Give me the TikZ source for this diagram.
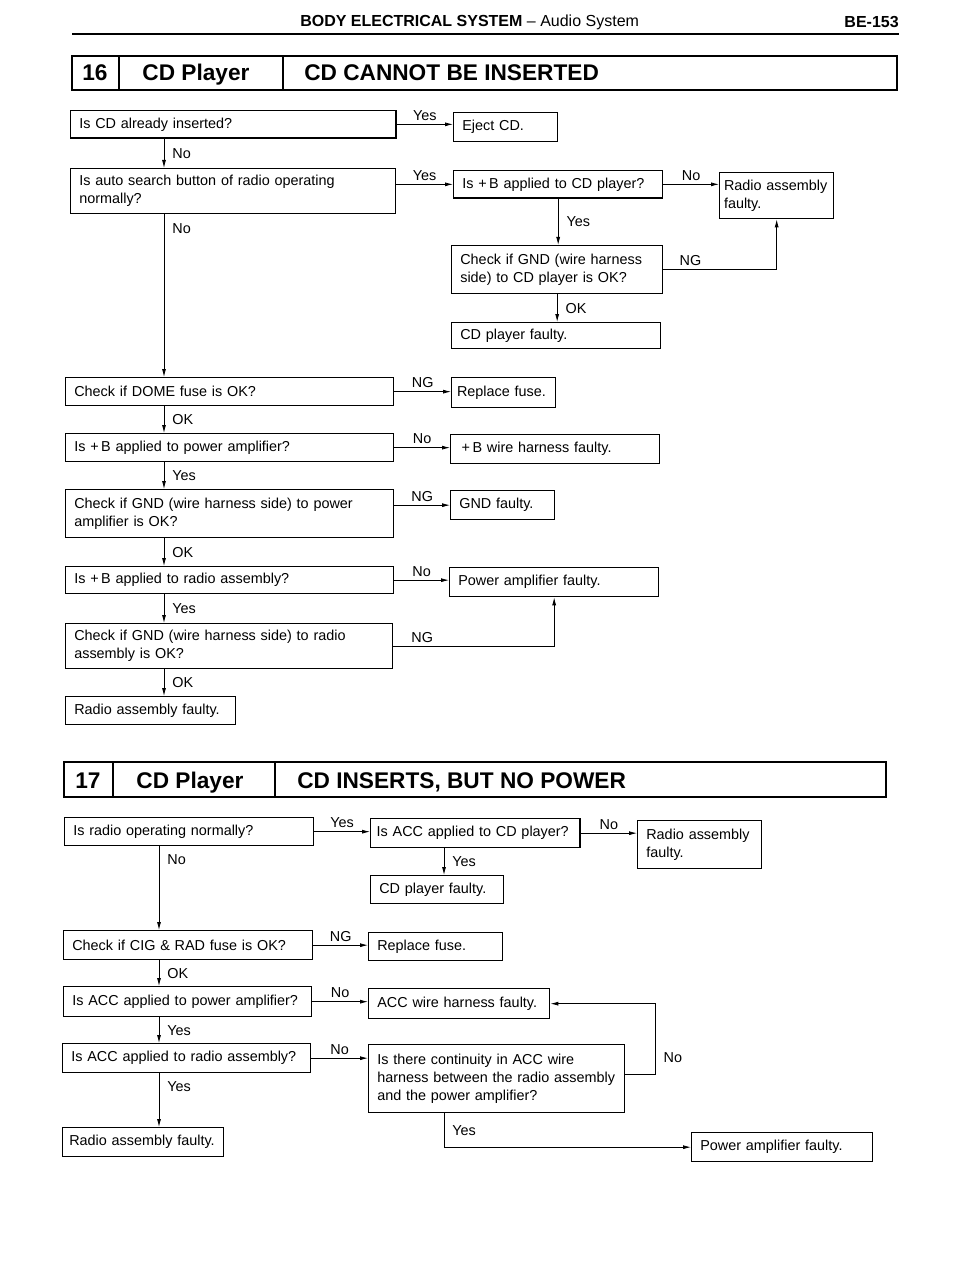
\documentclass[tikz,border=0pt]{standalone}
\usepackage{fontspec}
\setmainfont{Liberation Sans}
\usetikzlibrary{arrows.meta}

\begin{document}
\begin{tikzpicture}[x=0.75pt,y=-0.75pt]
	\tikzstyle{qbox}=[draw, line width=1pt, anchor=north west, align=left, inner xsep=6.5pt, minimum height=20.5pt, font=\fontsize{10.8pt}{13.5pt}\selectfont]
	\tikzstyle{lbl}=[inner sep=2.5pt, font=\fontsize{10.8pt}{13.5pt}\selectfont]
	\tikzstyle{rlbl}=[lbl, right, xshift=3.5pt]
	\tikzstyle{flow}=[->, >={Latex[length=6pt,width=3pt]}, line width=0.6pt]
	\tikzstyle{ttl}=[inner sep=0pt, anchor=base, font=\fontsize{17pt}{20pt}\selectfont\bfseries]
	\path[fill=white] (0,0) rectangle (960,1280);
	\useasboundingbox (0,0) rectangle (960,1280);
	% page header
	\node (hdr) [anchor=west, inner sep=0pt, font=\fontsize{12pt}{14pt}\selectfont] at (300,22) {\bfseries BODY ELECTRICAL SYSTEM\mdseries\ -- Audio System};
	\node (page) [anchor=east, inner sep=0pt, font=\fontsize{12pt}{14pt}\selectfont\bfseries] at (899,22) {BE-153};
	\draw[line width=1.8pt] (72,34) -- (899,34);
	% 16
	\draw[line width=1pt] (72,56) rectangle (897,90);
	\draw[line width=1pt] (119,56) -- (119,90);
	\draw[line width=1pt] (283,56) -- (283,90);
	\node (n16) [ttl] at (95,81) {16};
	\node (cd16) [ttl] at (196,81) {CD Player};
	\node (t16txt) [ttl, anchor=base west] at (304,81) {CD CANNOT BE INSERTED};
	\coordinate (t16) at (164,0);
	\node (A1) at (70,110) [qbox, text width=231pt] {Is CD already inserted?};
	\node (ej) at (453,112) [qbox, text width=65pt, minimum height=21.75pt] {Eject CD.};
	\node (A2) at (70,168) [qbox, text width=230.75pt, minimum height=33.75pt] {Is auto search button of radio operating\\normally?};
	\node (B1) at (453,170) [qbox, text width=143.75pt] {Is +\,B applied to CD player?};
	\node (R1) at (719,172) [qbox, text width=79pt, inner xsep=3.25pt, minimum height=34.5pt] {Radio assembly\\faulty.};
	\node (B2) at (451,245) [qbox, text width=145.25pt, minimum height=36pt] {Check if GND (wire harness\\side) to CD player is OK?};
	\node (B3) at (451,322) [qbox, text width=143.75pt, minimum height=19.5pt] {CD player faulty.};
	\node (C1) at (65,377) [qbox, text width=233pt, minimum height=21pt] {Check if DOME fuse is OK?};
	\node (rf1) at (451,377) [qbox, text width=70pt, inner xsep=4pt, minimum height=22.5pt] {Replace fuse.};
	\node (C2) at (65,433) [qbox, text width=233pt, minimum height=21pt] {Is +\,B applied to power amplifier?};
	\node (bw) at (450,434) [qbox, text width=143.75pt, minimum height=21.75pt] {\,+\,B wire harness faulty.};
	\node (C3) at (65,489) [qbox, text width=233pt, minimum height=36pt] {Check if GND (wire harness side) to power\\amplifier is OK?};
	\node (gf) at (450,490) [qbox, text width=65pt, minimum height=21.75pt] {GND faulty.};
	\node (C4) at (65,566) [qbox, text width=233pt, minimum height=20.25pt] {Is +\,B applied to radio assembly?};
	\node (paf1) at (449,567) [qbox, text width=143.75pt, minimum height=21.75pt] {Power amplifier faulty.};
	\node (C5) at (65,623) [qbox, text width=232.25pt, minimum height=33.75pt] {Check if GND (wire harness side) to radio\\assembly is OK?};
	\node (C6) at (65,696) [qbox, text width=114.5pt, minimum height=21pt] {Radio assembly faulty.};
	\draw[flow] (A1.east) -- node[lbl,above] {Yes} (A1.east -| ej.west);
	\draw[flow] (A1.south -| t16) -- node[rlbl] {No} (A2.north -| t16);
	\draw[flow] (B1.west -| A2.east) -- node[lbl,above] {Yes} (B1.west);
	\draw[flow] (B1.east) -- node[lbl,above] {No} (B1.east -| R1.west);
	\draw[flow] (B1.south) -- node[rlbl] {Yes} (B1.south |- B2.north);
	\draw[flow] (B2.east) -| node[lbl,above,pos=.12] {NG} (R1.south);
	\draw[flow] (B2.south) -- node[rlbl] {OK} (B2.south |- B3.north);
	\draw[flow] (A2.south -| t16) -- node[rlbl,pos=.09] {No} (C1.north -| t16);
	\draw[flow] (C1.east) -- node[lbl,above] {NG} (C1.east -| rf1.west);
	\draw[flow] (C1.south -| t16) -- node[rlbl] {OK} (C2.north -| t16);
	\draw[flow] (C2.east) -- node[lbl,above] {No} (C2.east -| bw.west);
	\draw[flow] (C2.south -| t16) -- node[rlbl] {Yes} (C3.north -| t16);
	\draw[flow] (gf.west -| C3.east) -- node[lbl,above] {NG} (gf.west);
	\draw[flow] (C3.south -| t16) -- node[rlbl] {OK} (C4.north -| t16);
	\draw[flow] (C4.east) -- node[lbl,above] {No} (C4.east -| paf1.west);
	\draw[flow] (C4.south -| t16) -- node[rlbl] {Yes} (C5.north -| t16);
	\draw[flow] (C5.east) -| node[lbl,above,pos=.09] {NG} (paf1.south);
	\draw[flow] (C5.south -| t16) -- node[rlbl] {OK} (C6.north -| t16);
	% 17
	\draw[line width=1pt] (64,762) rectangle (886,797);
	\draw[line width=1pt] (113,762) -- (113,797);
	\draw[line width=1pt] (275,762) -- (275,797);
	\node (n17) [ttl] at (88,788) {17};
	\node (cd17) [ttl] at (190,788) {CD Player};
	\node (t17txt) [ttl, anchor=base west] at (297,788) {CD INSERTS, BUT NO POWER};
	\coordinate (t17) at (159,0);
	\coordinate (t17r) at (444,0);
	\node (D1) at (64,817) [qbox, text width=173.75pt, minimum height=21pt] {Is radio operating normally?};
	\node (E1) at (370,818) [qbox, text width=148pt, inner xsep=4.5pt, minimum height=21.75pt] {Is ACC applied to CD player?};
	\node (R2) at (637,820) [qbox, text width=80pt, minimum height=36pt] {Radio assembly\\faulty.};
	\node (E2) at (370,875) [qbox, text width=86.75pt, minimum height=21pt] {CD player faulty.};
	\node (D2) at (63,930) [qbox, text width=173.75pt, minimum height=21.75pt] {Check if CIG \& RAD fuse is OK?};
	\node (rf2) at (368,932) [qbox, text width=87.5pt, minimum height=21pt] {Replace fuse.};
	\node (D3) at (63,986) [qbox, text width=173pt, minimum height=22.5pt] {Is ACC applied to power amplifier?};
	\node (aw) at (368,988) [qbox, text width=122.75pt, minimum height=22.5pt] {ACC wire harness faulty.};
	\node (D4) at (62,1043) [qbox, text width=173pt, minimum height=21.75pt] {Is ACC applied to radio assembly?};
	\node (F1) at (368,1044) [qbox, text width=179pt, minimum height=51pt] {Is there continuity in ACC wire\\harness between the radio assembly\\and the power amplifier?};
	\node (D5) at (62,1127) [qbox, text width=110.75pt, inner xsep=5pt, minimum height=21.75pt] {Radio assembly faulty.};
	\node (paf2) at (691,1132) [qbox, text width=122.75pt, minimum height=21.75pt] {Power amplifier faulty.};
	\draw[flow] (D1.east) -- node[lbl,above] {Yes} (D1.east -| E1.west);
	\draw[flow] (E1.east) -- node[lbl,above] {No} (E1.east -| R2.west);
	\draw[flow] (E1.south -| t17r) -- node[rlbl] {Yes} (E2.north -| t17r);
	\draw[flow] (D1.south -| t17) -- node[rlbl,pos=.16] {No} (D2.north -| t17);
	\draw[flow] (D2.east) -- node[lbl,above] {NG} (D2.east -| rf2.west);
	\draw[flow] (D2.south -| t17) -- node[rlbl] {OK} (D3.north -| t17);
	\draw[flow] (D3.east) -- node[lbl,above] {No} (D3.east -| aw.west);
	\draw[flow] (D3.south -| t17) -- node[rlbl] {Yes} (D4.north -| t17);
	\draw[flow] (D4.east) -- node[lbl,above] {No} (D4.east -| F1.west);
	\draw[flow] (D4.south -| t17) -- node[rlbl,pos=.25] {Yes} (D5.north -| t17);
	\draw[flow] ([yshift=3pt]F1.east) -- ++(30,0) |- node[rlbl,pos=.12] {No} (aw.east);
	\draw[flow] (F1.south -| t17r) |- node[rlbl,pos=.25] {Yes} (paf2.west);
\end{tikzpicture}
\end{document}
